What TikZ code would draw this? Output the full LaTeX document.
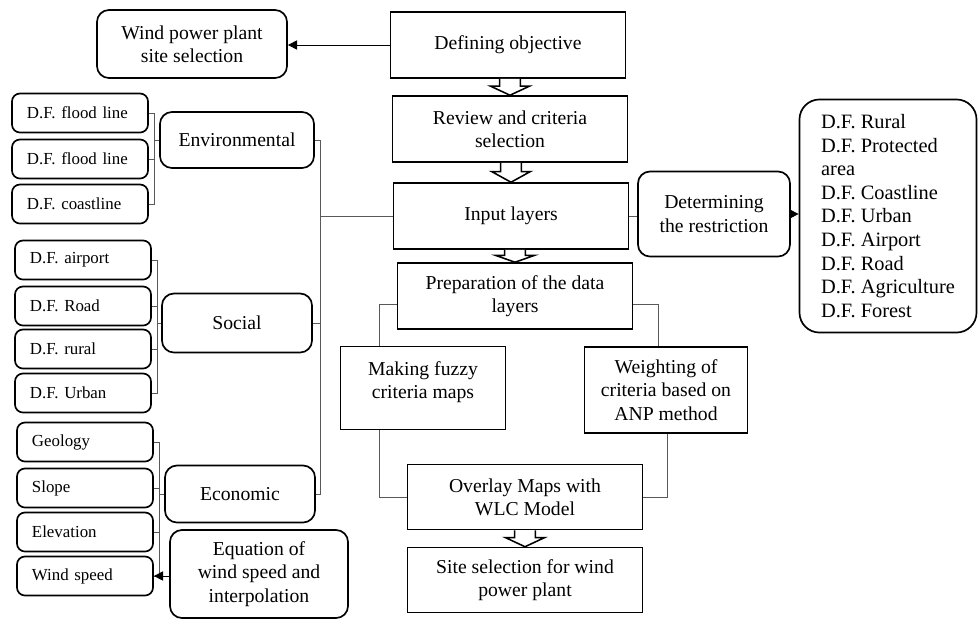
\documentclass[tikz,border=0pt]{standalone}
\usepackage{fontspec}
\setmainfont{Liberation Serif}
\usetikzlibrary{arrows.meta, calc}
\frenchspacing

\newcommand{\hollowarrow}[2]{%
	\draw[line width=1.1pt, fill=white] let \p1=(#1.south), \p2=(#2.north) in
		({\x2-7.4pt},\y1) -- ({\x2-7.4pt},{\y1+0.45*(\y2-\y1)}) -- ({\x2-13.8pt},{\y1+0.45*(\y2-\y1)})
		-- (\x2,\y2) -- ({\x2+13.8pt},{\y1+0.45*(\y2-\y1)}) -- ({\x2+7.4pt},{\y1+0.45*(\y2-\y1)})
		-- ({\x2+7.4pt},\y1);
}

\begin{document}
\begin{tikzpicture}[x=0.025cm, y=-0.025cm,
	rectbox/.style={draw, line width=1.1pt, align=center, minimum width=5.875cm, minimum height=1.65cm, font=\fontsize{14}{16.5}\selectfont},
	roundbox/.style={draw, line width=1.2pt, rounded corners=0.3cm, align=center, font=\fontsize{14}{16.5}\selectfont},
	smallbox/.style={draw, line width=1.2pt, rounded corners=0.2cm, align=left, text width=2.65cm, inner xsep=0.375cm, minimum height=0.975cm, font=\fontsize{12}{14}\selectfont},
	conn/.style={draw=black!65, line width=0.6pt},
	arr/.style={draw=black, line width=0.6pt, -{Triangle[length=6.5pt, width=6.5pt]}}]
		\useasboundingbox (0,0) rectangle (979,620);
		
		% main column
		\node[rectbox] (defobj) at (508,45) {Defining objective};
		\node[rectbox] (review) at (510,129) {Review and criteria\\selection};
		\node[rectbox] (input) at (511,216) {Input layers};
		\node[rectbox] (prep) at (515,296) {Preparation of the data\\layers};
		\node[rectbox, minimum width=4.125cm, minimum height=2.075cm] (fuzzy) at (423,388) {Making fuzzy\\criteria maps\\[-5pt]\mbox{}};
		\node[rectbox, minimum width=4.075cm, minimum height=2.15cm] (weight) at (666,390) {Weighting of\\criteria based on\\ANP method};
		\node[rectbox, minimum height=1.625cm] (overlay) at (525,497) {Overlay Maps with\\WLC Model};
		\node[rectbox, minimum height=1.625cm] (site) at (525,580) {Site selection for wind\\power plant};
		
		\node[roundbox, minimum width=4.75cm, minimum height=1.7cm] (wind) at (192,44) {Wind power plant\\site selection};
		\node[roundbox, minimum width=3.8cm, minimum height=2.125cm] (restrict) at (714,214) {Determining\\the restriction};
		\node[roundbox, align=left, minimum width=4.425cm, minimum height=5.825cm, rounded corners=0.5cm, font=\fontsize{14.5}{16.8}\selectfont] (dflist) at (888,216)
			{D.F. Rural\\D.F. Protected\\area\\D.F. Coastline\\D.F. Urban\\D.F. Airport\\D.F. Road\\D.F. Agriculture\\D.F. Forest};
		
		% criteria groups
		\node[roundbox, minimum width=3.85cm, minimum height=1.4cm] (env) at (237,140) {Environmental};
		\node[roundbox, minimum width=3.75cm, minimum height=1.475cm] (social) at (237,323) {Social};
		\node[roundbox, minimum width=3.75cm, minimum height=1.425cm] (econ) at (240,494) {Economic};
		\node[roundbox, minimum width=4.45cm, minimum height=2.2cm] (equation) at (259,574) {Equation of\\wind speed and\\interpolation};
		
		\node[smallbox] (flood1) at (80,113) {D.F. flood line};
		\node[smallbox] (flood2) at (80,159) {D.F. flood line};
		\node[smallbox] (coast) at (80,204) {D.F. coastline};
		
		\node[smallbox] (airport) at (83,260) {D.F. airport};
		\node[smallbox] (road) at (83,306) {D.F. Road};
		\node[smallbox] (rural) at (83,349) {D.F. rural};
		\node[smallbox] (urban) at (83,393) {D.F. Urban};
		
		\node[smallbox] (geology) at (85,442) {Geology};
		\node[smallbox] (slope) at (85,488) {Slope};
		\node[smallbox] (elev) at (85,532) {Elevation};
		\node[smallbox] (windsp) at (85,576) {Wind speed};
		
		% hollow arrows
		\hollowarrow{defobj}{review}
		\hollowarrow{review}{input}
		\hollowarrow{input}{prep}
		\hollowarrow{overlay}{site}
		
		\draw[arr] (defobj.west) -- (wind.east |- defobj.west);
		\draw[conn] (input.east) -- (restrict.west |- input.east);
		\draw[arr] (restrict.east) -- (dflist.west |- restrict.east);
		
		\draw[conn] ([yshift=-6pt]prep.west) -| ([xshift=1cm]fuzzy.north west);
		\draw[conn] ([yshift=-6pt]prep.east) -| ([xshift=1.875cm]weight.north west);
		\draw[conn] ([xshift=1cm]fuzzy.south west) |- (overlay.west);
		\draw[conn] ([xshift=2.1cm]weight.south west) |- (overlay.east);
		
		% trunk to input layers
		\coordinate (trunk) at ($(env.east)+(6,0)$);
		\draw[conn] (env.east) -- (trunk) |- (econ.east);
		\draw[conn] (social.east) -- (trunk |- social.east);
		\draw[conn] (trunk |- input.west) -- (input.west);
		
		% brackets
		\draw[conn] (flood1.east) -- ++(6,0) coordinate (envbr) |- (coast.east);
		\draw[conn] (flood2.east) -- (envbr |- flood2.east);
		\draw[conn] (envbr |- env.west) -- (env.west);
		
		\draw[conn] (airport.east) -- ++(6,0) coordinate (socbr) |- (urban.east);
		\draw[conn] (road.east) -- (socbr |- road.east);
		\draw[conn] (rural.east) -- (socbr |- rural.east);
		\draw[conn] (socbr |- social.west) -- (social.west);
		
		\draw[conn] (geology.east) -- ++(6,0) coordinate (ecobr) |- (windsp.east);
		\draw[conn] (slope.east) -- (ecobr |- slope.east);
		\draw[conn] (elev.east) -- (ecobr |- elev.east);
		\draw[conn] (ecobr |- econ.west) -- (econ.west);
		\draw[arr] (equation.west |- windsp.east) -- (windsp.east);
\end{tikzpicture}
\end{document}
